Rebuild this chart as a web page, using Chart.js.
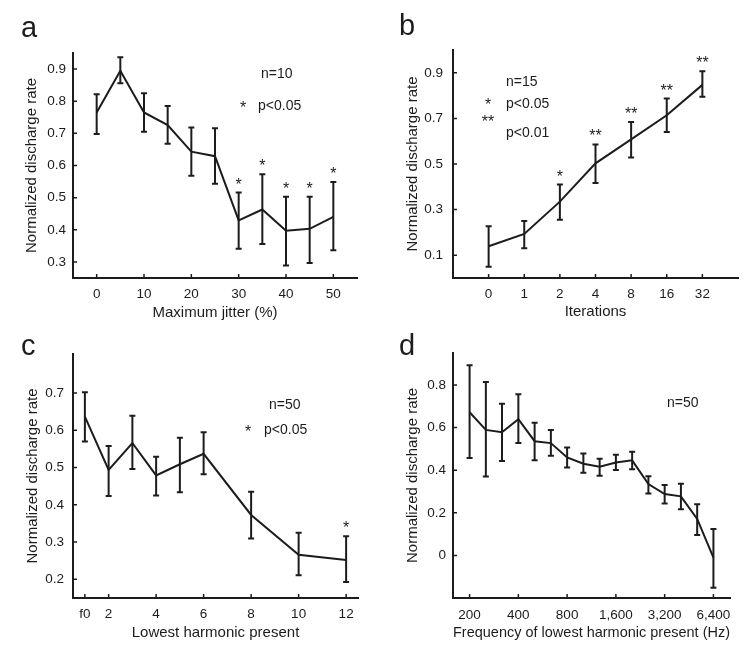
<!DOCTYPE html>
<html>
<head>
<meta charset="utf-8">
<script src="https://cdn.jsdelivr.net/npm/chart.js@4.4.1/dist/chart.umd.min.js"></script>
<style>
  body { margin: 0; background: #fff; }
  #wrap { position: relative; width: 750px; height: 658px; }
  #wrap canvas { position: absolute; }
</style>
</head>
<body>
<div id="wrap">
  <canvas id="cA" width="375" height="329" style="left:0;top:0"></canvas>
  <canvas id="cB" width="375" height="329" style="left:375px;top:0"></canvas>
  <canvas id="cC" width="375" height="329" style="left:0;top:329px"></canvas>
  <canvas id="cD" width="375" height="329" style="left:375px;top:329px"></canvas>
</div>
<script>
// panel a - jitter
const jitterX = [0, 5, 10, 15, 20, 25, 30, 35, 40, 45, 50];
const jitterMean = [0.765, 0.895, 0.765, 0.726, 0.643, 0.629, 0.429, 0.463, 0.397, 0.403, 0.44];
const jitterHi = [0.822, 0.937, 0.825, 0.785, 0.718, 0.716, 0.516, 0.573, 0.503, 0.503, 0.549];
const jitterLo = [0.698, 0.856, 0.705, 0.668, 0.568, 0.543, 0.341, 0.356, 0.289, 0.297, 0.336];
const jitterSig = ['', '', '', '', '', '', '*', '*', '*', '*', '*'];
const jitterTicks = [0, 10, 20, 30, 40, 50];
const rateTicksA = [0.3, 0.4, 0.5, 0.6, 0.7, 0.8, 0.9];

// panel b - iterations (plotted at evenly spaced positions)
const iterLabels = ['0', '1', '2', '4', '8', '16', '32'];
const iterMean = [0.139, 0.193, 0.335, 0.503, 0.608, 0.714, 0.847];
const iterHi = [0.227, 0.25, 0.41, 0.586, 0.684, 0.787, 0.907];
const iterLo = [0.049, 0.131, 0.256, 0.417, 0.529, 0.64, 0.795];
const iterSig = ['', '', '*', '**', '**', '**', '**'];
const rateTicksB = [0.1, 0.3, 0.5, 0.7, 0.9];

// panel c - lowest harmonic (1 = f0)
const harmX = [1, 2, 3, 4, 5, 6, 8, 10, 12];
const harmMean = [0.637, 0.494, 0.566, 0.479, 0.509, 0.537, 0.373, 0.266, 0.252];
const harmHi = [0.702, 0.558, 0.639, 0.529, 0.58, 0.595, 0.435, 0.325, 0.316];
const harmLo = [0.57, 0.424, 0.496, 0.425, 0.434, 0.482, 0.31, 0.211, 0.193];
const harmSig = ['', '', '', '', '', '', '', '', '*'];
const harmTicks = [1, 2, 4, 6, 8, 10, 12];
const harmTickLabels = ['f0', '2', '4', '6', '8', '10', '12'];
const rateTicksC = [0.2, 0.3, 0.4, 0.5, 0.6, 0.7];

// panel d - frequency of lowest harmonic (Hz)
const freqX = [200, 252, 317, 400, 504, 635, 800, 1008, 1270, 1600, 2016, 2540, 3200, 4032, 5080, 6400];
const freqMean = [0.672, 0.589, 0.578, 0.639, 0.536, 0.527, 0.46, 0.43, 0.416, 0.436, 0.446, 0.335, 0.288, 0.277, 0.171, -0.011];
const freqHi = [0.893, 0.814, 0.712, 0.756, 0.623, 0.588, 0.507, 0.478, 0.454, 0.472, 0.487, 0.372, 0.33, 0.336, 0.24, 0.124];
const freqLo = [0.457, 0.37, 0.443, 0.528, 0.446, 0.468, 0.412, 0.388, 0.374, 0.401, 0.404, 0.291, 0.244, 0.217, 0.096, -0.152];
const freqTicks = [200, 400, 800, 1600, 3200, 6400];
const rateTicksD = [0, 0.2, 0.4, 0.6, 0.8];

const INK = '#1c1c1c';
const FONT = '"Liberation Sans", Arial, Helvetica, sans-serif';

function decor(p) {
  return {
    id: 'decor',
    afterDatasetsDraw(chart) {
      const ctx = chart.ctx, xs = chart.scales.x, ys = chart.scales.y, a = chart.chartArea;
      ctx.save();
      ctx.strokeStyle = INK;
      ctx.fillStyle = INK;
      ctx.lineWidth = 2;
      // error bars
      p.x.forEach((xv, i) => {
        const px = xs.getPixelForValue(xv);
        const t = ys.getPixelForValue(p.hi[i]);
        const b = ys.getPixelForValue(p.lo[i]);
        ctx.beginPath();
        ctx.moveTo(px, t); ctx.lineTo(px, b);
        ctx.moveTo(px - 3, t); ctx.lineTo(px + 3, t);
        ctx.moveTo(px - 3, b); ctx.lineTo(px + 3, b);
        ctx.stroke();
        if (p.sig && p.sig[i]) {
          ctx.font = '16px ' + FONT;
          ctx.textAlign = 'center';
          ctx.textBaseline = 'alphabetic';
          ctx.fillText(p.sig[i], px, t - 3);
        }
      });
      // small inward tick marks
      ctx.lineWidth = 1.5;
      ctx.beginPath();
      xs.ticks.forEach(tk => {
        const px = xs.getPixelForValue(tk.value);
        ctx.moveTo(px, a.bottom); ctx.lineTo(px, a.bottom - 4);
      });
      ys.ticks.forEach(tk => {
        const py = ys.getPixelForValue(tk.value);
        ctx.moveTo(a.left, py); ctx.lineTo(a.left + 4, py);
      });
      ctx.stroke();
      // notes
      ctx.textBaseline = 'middle';
      p.notes.forEach(n => {
        ctx.font = (n.size || 14) + 'px ' + FONT;
        ctx.textAlign = n.align || 'left';
        ctx.fillText(n.text, n.x, n.y);
      });
      // panel letter
      ctx.font = '29px ' + FONT;
      ctx.textAlign = 'left';
      ctx.textBaseline = 'alphabetic';
      ctx.fillText(p.letter.text, p.letter.x, p.letter.y);
      ctx.restore();
    }
  };
}

function makeChart(id, p) {
  const tickFont = { family: FONT, size: 13.5 };
  const titleFont = { family: FONT, size: 15 };
  return new Chart(document.getElementById(id), {
    type: 'line',
    data: {
      datasets: [{
        data: p.x.map((v, i) => ({ x: v, y: p.mean[i] })),
        borderColor: INK,
        borderWidth: 2,
        pointRadius: 0,
        tension: 0,
        fill: false
      }]
    },
    options: {
      responsive: false,
      animation: false,
      layout: { padding: { top: p.top, right: p.right, left: 0, bottom: 0 } },
      plugins: { legend: { display: false }, tooltip: { enabled: false } },
      scales: {
        x: {
          type: p.xType || 'linear',
          position: 'bottom',
          min: p.xMin,
          max: p.xMax,
          grid: { display: false, drawTicks: false },
          border: { display: true, color: INK, width: 2 },
          ticks: {
            color: INK, font: tickFont, padding: p.xTickPad, autoSkip: false, maxRotation: 0,
            callback: (v, i) => p.xTickLabels[i]
          },
          title: {
            display: true, text: p.xTitle, color: INK, font: titleFont,
            padding: { top: 0, bottom: p.xTitlePad }
          },
          afterBuildTicks: s => { s.ticks = p.xTicks.map(v => ({ value: v })); },
          afterFit: s => { s.height = p.xHeight; }
        },
        y: {
          type: 'linear',
          position: 'left',
          min: p.yMin,
          max: p.yMax,
          grid: { display: false, drawTicks: false },
          border: { display: true, color: INK, width: 2 },
          ticks: {
            color: INK, font: tickFont, padding: p.yTickPad, autoSkip: false,
            callback: (v, i) => p.yTickLabels[i]
          },
          title: {
            display: true, text: 'Normalized discharge rate', color: INK, font: titleFont,
            padding: { top: p.yTitlePad, bottom: 0 }
          },
          afterBuildTicks: s => { s.ticks = p.yTicks.map(v => ({ value: v })); },
          afterFit: s => { s.width = p.yWidth; }
        }
      }
    },
    plugins: [decor(p)]
  });
}

const oneDec = arr => arr.map(v => v.toFixed(1));

makeChart('cA', {
  x: jitterX, mean: jitterMean, hi: jitterHi, lo: jitterLo, sig: jitterSig,
  xMin: -5, xMax: 55, xTicks: jitterTicks, xTickLabels: jitterTicks.map(String),
  yMin: 0.25, yMax: 0.95, yTicks: rateTicksA, yTickLabels: oneDec(rateTicksA),
  xTitle: 'Maximum jitter (%)',
  top: 53, right: 18, yWidth: 73, xHeight: 51,
  xTickPad: 8, xTitlePad: 7, yTickPad: 7, yTitlePad: 23,
  notes: [
    { text: 'n=10', x: 261, y: 74 },
    { text: '*', x: 243, y: 109, align: 'center', size: 16 },
    { text: 'p<0.05', x: 258, y: 106 }
  ],
  letter: { text: 'a', x: 21, y: 37 }
});

makeChart('cB', {
  x: iterLabels.map((l, i) => i), mean: iterMean, hi: iterHi, lo: iterLo, sig: iterSig,
  xMin: -1, xMax: 7, xTicks: iterLabels.map((l, i) => i), xTickLabels: iterLabels,
  yMin: 0, yMax: 1.0, yTicks: rateTicksB, yTickLabels: oneDec(rateTicksB),
  xTitle: 'Iterations',
  top: 50, right: 12, yWidth: 78, xHeight: 51,
  xTickPad: 8, xTitlePad: 8, yTickPad: 10, yTitlePad: 29,
  notes: [
    { text: 'n=15', x: 131, y: 82 },
    { text: '*', x: 113, y: 106, align: 'center', size: 16 },
    { text: 'p<0.05', x: 131, y: 104 },
    { text: '**', x: 113, y: 123, align: 'center', size: 16 },
    { text: 'p<0.01', x: 131, y: 133 }
  ],
  letter: { text: 'b', x: 24, y: 35 }
});

makeChart('cC', {
  x: harmX, mean: harmMean, hi: harmHi, lo: harmLo, sig: harmSig,
  xMin: 0.5, xMax: 12.5, xTicks: harmTicks, xTickLabels: harmTickLabels,
  yMin: 0.15, yMax: 0.805, yTicks: rateTicksC, yTickLabels: oneDec(rateTicksC),
  xTitle: 'Lowest harmonic present',
  top: 25, right: 17, yWidth: 73, xHeight: 60,
  xTickPad: 8, xTitlePad: 16, yTickPad: 9, yTitlePad: 24,
  notes: [
    { text: 'n=50', x: 269, y: 76 },
    { text: '*', x: 248, y: 104, align: 'center', size: 16 },
    { text: 'p<0.05', x: 264, y: 101 }
  ],
  letter: { text: 'c', x: 21, y: 26 }
});

makeChart('cD', {
  x: freqX, mean: freqMean, hi: freqHi, lo: freqLo, sig: null,
  xType: 'logarithmic', xMin: 158, xMax: 8100, xTicks: freqTicks,
  xTickLabels: freqTicks.map(v => v.toLocaleString('en-US')),
  yMin: -0.2, yMax: 0.95, yTicks: rateTicksD, yTickLabels: rateTicksD.map(v => v === 0 ? '0' : v.toFixed(1)),
  xTitle: 'Frequency of lowest harmonic present (Hz)',
  top: 24, right: 20, yWidth: 78, xHeight: 60,
  xTickPad: 9, xTitlePad: 16, yTickPad: 7, yTitlePad: 29,
  notes: [
    { text: 'n=50', x: 292, y: 74 }
  ],
  letter: { text: 'd', x: 24, y: 26 }
});
</script>
</body>
</html>
